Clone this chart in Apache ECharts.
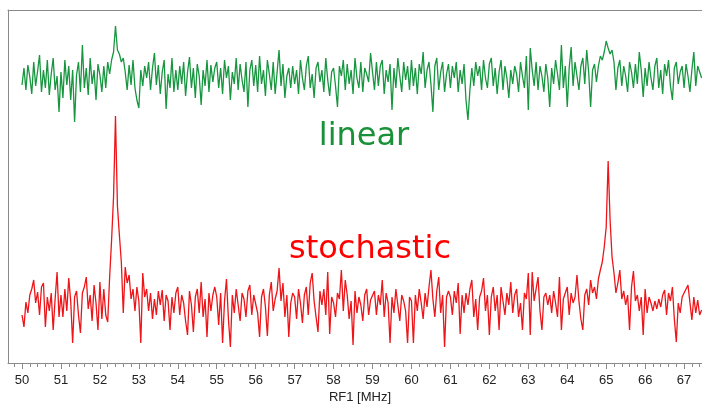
<!DOCTYPE html>
<html>
<head>
<meta charset="utf-8">
<script src="https://cdn.jsdelivr.net/npm/echarts@6/dist/echarts.min.js"></script>
<style>
  html, body { margin: 0; padding: 0; background: #ffffff; }
  #chart { width: 702px; height: 404px; }
</style>
</head>
<body>
<div id="chart"></div>
<script>
// RF1 sweep: spectra recorded with linear and stochastic excitation.
// Samples every 0.05 MHz starting at 50.00 MHz; one row = 1 MHz.
const freqStart = 50.0;
const freqStep = 0.05;

const linearSignal = [
  -5, 12, -10, 15, 3, -14, 18, -6, 9, 25, -12, 10, -8, 20, -15, 6, 22, -10, 4, -32,
  8, -18, 20, -5, 14, -20, 10, -42, 5, 18, -12, 35, -8, 12, -15, 22, -4, 10, -20, 16,
  5, -12, 14, -8, 18, 6, 20, 28, 54, 30, 26, 18, 22, 8, -10, 15, -5, 20, -8, -20,
  -28, 10, -6, 14, 2, 18, -10, 12, 27, -5, 15, -14, 8, 20, -29, 6, -8, 22, -12, 10,
  -10, 14, -4, 18, -16, 8, 23, -8, 12, -18, 16, 4, -25, 10, -6, 20, -12, 15, -2, 12,
  18, -8, 12, -14, 20, 2, 14, -20, 8, -4, 22, -10, 16, 0, -12, 18, -27, 10, 20, -6,
  15, -12, 24, -4, 10, -16, 20, 6, -10, 18, -14, 8, 30, -6, 16, -18, 4, 12, -8, 14,
  -4, 10, -14, 20, 2, -10, 14, 24, -8, 6, -18, 12, 18, -2, 10, -12, 22, 0, -16, 8,
  12, -6, -27, 14, 4, 20, -10, 16, -4, 10, -14, 22, 2, -8, 18, -12, 12, 6, -2, 27,
  8, -10, 18, -6, 14, 20, -14, 10, -2, 16, -30, 12, -8, 22, 4, -12, 18, 0, 14, -10,
  20, -6, 12, -14, 16, 6, 28, -8, 10, 18, -4, -32, 14, 22, -10, 8, 18, -12, 6, 16,
  -8, 14, 2, 18, -12, 10, -4, 16, -20, -40, -10, 12, -6, 18, 4, 14, -10, 20, 2, -8,
  16, 22, -6, 12, -14, 8, 20, -10, 14, 2, -18, 10, -4, 14, 6, -12, 18, 4, -8, 24,
  -30, 32, 10, -6, 18, -10, 14, 4, -12, 16, 2, -27, 12, -4, 20, 6, -10, 35, -8, 14,
  -27, 12, 33, -6, 18, 4, -10, 14, 22, -4, 30, 8, -27, 10, 16, -2, 14, 24, 20, 28,
  39, 32, 26, 30, 18, -10, 12, 20, -6, 14, 4, -12, 18, 8, -8, 16, -4, 28, 10, -17,
  12, -6, 18, 2, -10, 14, 22, -8, 10, -14, 16, 4, 20, -6, -20, 12, 18, -4, 8, 14,
  -8, 16, 4, -12, 10, 28, -6, 14, 8, 2
];

const stochasticSignal = [
  -8, -20, 5, -6, 12, 18, 27, 4, 15, -8, 20, 24, -20, 10, -4, 14, -23, 8, 35, -10,
  12, -10, 18, -4, 29, 6, -36, 10, 16, -8, -26, 14, 20, 30, -2, 12, -14, 22, 4, -23,
  25, -12, 18, -8, -15, 30, 67, 110, 191, 101, 72, 45, -6, 40, 24, 32, 8, 18, -4, 20,
  6, -36, 34, 10, 18, -4, 14, -12, 8, -8, 16, 2, 17, -14, 12, 6, -23, 10, -6, 14,
  20, -8, 12, 4, -14, -28, 16, 2, -25, 10, 18, -6, 25, -10, 8, -30, 14, -4, 12, 20,
  10, -18, 14, -36, 6, 28, -12, -40, 12, -6, 18, 2, -14, 14, 8, -10, 16, 22, -8, 12,
  14, -6, -30, 10, 18, 0, -29, 12, 25, -4, 8, 16, 39, 6, 24, -10, 12, -30, 4, 14,
  10, -12, 18, 4, -16, 12, 20, -8, 24, 34, 6, -10, -25, 16, 2, 18, -8, 35, -27, 10,
  4, -10, 14, 8, 37, -4, 27, 12, -12, 6, -38, 16, -6, 10, 2, -14, 12, 18, -8, 7,
  8, 16, -8, 12, 2, 27, -10, 14, 4, -36, 10, -6, 18, 2, -14, 12, 6, -4, -36, 10,
  6, -36, 12, -4, 18, 4, -12, 14, 0, 20, 37, 8, -10, 16, 30, -6, 12, -40, 10, 16,
  10, -8, 16, 4, 24, -27, 12, -6, 14, 2, 18, 27, -10, 8, -23, 10, 16, 29, -4, 12,
  -28, 10, 20, -4, 12, -23, 20, 6, -8, 14, 2, 25, -6, 12, 18, -10, 4, -23, 14, 8,
  34, -28, 35, 6, 18, 30, -4, -23, 10, 14, 2, 12, -6, 16, 4, -10, 30, -23, 8, 14,
  20, -8, 14, 4, 10, 32, 6, -12, -23, 12, 18, 2, 27, 14, 20, 8, 28, 37, 45, 60,
  80, 146, 87, 50, 34, 14, 24, 37, 8, 16, 2, 12, -23, 20, 36, 6, 12, -4, 10, -28,
  18, -6, 10, 4, -4, 6, -2, 8, 0, 12, 17, -8, 14, 6, 20, -12, -35, 4, -6, 10,
  12, 18, 22, 24, -13, 10, -6, 7, -8, -3
];

// Labelled frequencies on the RF1 axis (MHz)
const tickLabels = [50, 51, 52, 53, 54, 55, 56, 57, 58, 59, 60, 61, 62, 63, 64, 65, 66, 67];
const minorStep = 0.2;

const axisRange = { min: 49.64, max: 67.46 };
const frameColor = '#8a8a8a';

function toPairs(values) {
  return values.map((v, i) => [+(freqStart + i * freqStep).toFixed(2), v]);
}

const minorTicks = [];
for (let k = 0; k * minorStep + 49.8 <= axisRange.max; k++) {
  minorTicks.push(+(49.8 + k * minorStep).toFixed(2));
}

const chart = echarts.init(document.getElementById('chart'), null, { renderer: 'canvas' });

const baseX = {
  type: 'value',
  min: axisRange.min,
  max: axisRange.max,
  splitLine: { show: false },
  axisLabel: { show: false },
  axisTick: { show: false },
  axisLine: { show: false, onZero: false }
};

chart.setOption({
  animation: false,
  backgroundColor: '#ffffff',
  grid: { left: 8, right: 0, top: 10, bottom: 41 },
  xAxis: [
    Object.assign({}, baseX, {
      position: 'bottom',
      axisLine: { show: true, onZero: false, lineStyle: { color: frameColor, width: 1 } },
      axisTick: { show: true, customValues: tickLabels, length: 6, lineStyle: { color: frameColor, width: 1 } },
      axisLabel: {
        show: true, customValues: tickLabels, margin: 11,
        fontFamily: 'Liberation Sans', fontSize: 13, color: '#222222'
      }
    }),
    Object.assign({}, baseX, {
      position: 'bottom',
      axisTick: { show: true, customValues: minorTicks, length: 4, lineStyle: { color: frameColor, width: 1 } }
    }),
    Object.assign({}, baseX, {
      position: 'top',
      axisLine: { show: true, onZero: false, lineStyle: { color: frameColor, width: 1 } }
    })
  ],
  yAxis: [
    {
      type: 'value', min: -283, max: 70, position: 'left',
      axisLine: { show: true, onZero: false, lineStyle: { color: frameColor, width: 1 } },
      axisTick: { show: false }, axisLabel: { show: false }, splitLine: { show: false }
    },
    {
      type: 'value', min: -56, max: 297, position: 'left',
      axisLine: { show: false, onZero: false },
      axisTick: { show: false }, axisLabel: { show: false }, splitLine: { show: false }
    }
  ],
  series: [
    {
      name: 'linear', type: 'line', xAxisIndex: 0, yAxisIndex: 0,
      data: toPairs(linearSignal), showSymbol: false, silent: true,
      lineStyle: { color: '#17963f', width: 1.3 }
    },
    {
      name: 'stochastic', type: 'line', xAxisIndex: 0, yAxisIndex: 1,
      data: toPairs(stochasticSignal), showSymbol: false, silent: true,
      lineStyle: { color: '#ee1418', width: 1.3 }
    }
  ],
  graphic: [
    {
      type: 'text', x: 364, y: 137, silent: true,
      style: {
        text: 'linear', font: '32px "DejaVu Sans"', fill: '#1a9038',
        align: 'center', verticalAlign: 'middle', textAlign: 'center', textVerticalAlign: 'middle'
      }
    },
    {
      type: 'text', x: 370, y: 250, silent: true,
      style: {
        text: 'stochastic', font: '32px "DejaVu Sans"', fill: '#ff0000',
        align: 'center', verticalAlign: 'middle', textAlign: 'center', textVerticalAlign: 'middle'
      }
    },
    {
      type: 'text', x: 360, y: 397, silent: true,
      style: {
        text: 'RF1 [MHz]', font: '13px "Liberation Sans"', fill: '#222222',
        align: 'center', verticalAlign: 'middle', textAlign: 'center', textVerticalAlign: 'middle'
      }
    }
  ]
});
</script>
</body>
</html>
